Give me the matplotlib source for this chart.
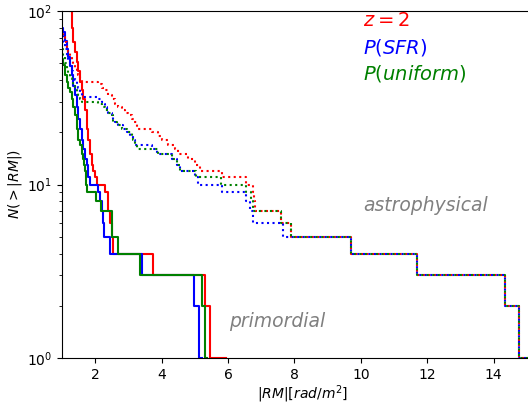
import matplotlib
matplotlib.use("Agg")
import matplotlib.pyplot as plt

# ---- primordial (solid) : step positions |RM| and N(>|RM|) levels ----
prim_z2_rm = [1.18, 1.22, 1.29, 1.34, 1.39, 1.44, 1.49, 1.54, 1.59, 1.64, 1.69, 1.74, 1.79,
              1.84, 1.89, 1.94, 1.99, 2.04, 2.30, 2.39, 2.45, 2.50, 2.55, 3.73, 5.30, 5.45, 5.95]
prim_z2_n = [110, 100, 80, 66, 58, 51, 45, 39, 35, 31, 27, 21, 18,
             15, 13, 12, 11, 10, 9, 7, 6, 5, 4, 3, 2, 1, 1]

prim_sfr_rm = [1.00, 1.04, 1.09, 1.14, 1.19, 1.24, 1.29, 1.34, 1.39, 1.44, 1.49, 1.54, 1.59, 1.64,
               1.69, 1.74, 1.79, 1.84, 2.09, 2.14, 2.19, 2.24, 2.27, 2.45, 3.40, 4.98, 5.13, 5.21]
prim_sfr_n = [80, 76, 67, 60, 54, 48, 43, 37, 33, 28, 24, 21, 18, 16,
              14, 13, 11, 10, 9, 8, 7, 6, 5, 4, 3, 2, 1, 1]

prim_uni_rm = [1.00, 1.04, 1.09, 1.14, 1.19, 1.24, 1.29, 1.34, 1.39, 1.44, 1.49, 1.54, 1.59, 1.64,
               1.66, 1.69, 1.71, 1.73, 1.75, 2.01, 2.17, 2.52, 2.69, 3.35, 5.22, 5.30, 5.36]
prim_uni_n = [53, 49, 43, 39, 36, 34, 31, 28, 25, 21, 18, 17, 15, 14,
              13, 12, 11, 10, 9, 8, 7, 5, 4, 3, 2, 1, 1]

# ---- astrophysical (dotted) ----
astro_z2_rm = [1.00, 1.04, 1.09, 1.14, 1.19, 1.24, 1.29, 1.34, 1.39, 1.44, 1.49, 1.54, 1.60,
               2.09, 2.20, 2.30, 2.40, 2.50, 2.60, 2.70, 2.80, 2.90, 3.00, 3.10, 3.18, 3.25,
               3.70, 3.90, 4.00, 4.20, 4.40, 4.50, 4.80, 5.00, 5.15, 5.81, 6.53, 6.74, 6.78,
               6.81, 7.60, 7.90, 9.70, 11.70, 14.35, 14.75, 15.5]
astro_z2_n = [74, 71, 66, 62, 58, 55, 52, 49, 47, 45, 43, 41, 39,
              38, 36, 35, 33, 31, 29, 28, 27, 26, 25, 24, 23, 21,
              20, 19, 18, 17, 16, 15, 14, 13, 12, 11, 10, 9, 8,
              7, 6, 5, 4, 3, 2, 1, 1]

astro_sfr_rm = [1.00, 1.04, 1.09, 1.14, 1.19, 1.24, 1.29, 1.34, 1.39, 1.44, 1.49, 1.54, 1.60,
                2.09, 2.19, 2.25, 2.30, 2.35, 2.40, 2.50, 2.55, 2.60, 2.70, 2.85, 2.95, 3.05,
                3.13, 3.20, 3.70, 3.85, 3.95, 4.30, 4.45, 4.55, 5.00, 5.10, 5.83, 6.55, 6.65,
                6.75, 6.81, 7.66, 9.70, 11.70, 14.35, 14.75, 15.5]
astro_sfr_n = [72, 66, 60, 55, 51, 48, 45, 42, 40, 38, 36, 34, 32,
               31, 30, 29, 28, 27, 26, 25, 24, 23, 22, 21, 20, 19,
               18, 17, 16, 15, 15, 14, 13, 12, 11, 10, 9, 8, 7,
               6, 6, 5, 4, 3, 2, 1, 1]

astro_uni_rm = [1.00, 1.04, 1.09, 1.14, 1.19, 1.24, 1.29, 1.34, 1.39, 1.44, 1.49, 1.54, 1.60,
                2.09, 2.20, 2.30, 2.40, 2.50, 2.55, 2.65, 2.80, 2.95, 3.10, 3.15, 3.20, 3.25,
                3.70, 3.88, 4.30, 4.45, 4.55, 5.05, 5.78, 6.55, 6.70, 6.76, 6.81, 7.60, 7.90,
                9.70, 11.70, 14.35, 14.75, 15.5]
astro_uni_n = [60, 55, 50, 46, 43, 41, 39, 37, 35, 34, 33, 31, 30,
               29, 28, 27, 26, 25, 23, 22, 21, 20, 19, 18, 17, 16,
               16, 15, 14, 13, 12, 11, 10, 9, 8, 7, 7, 6, 5,
               4, 3, 2, 1, 1]

labels = ["$z=2$", "$P(SFR)$", "$P(uniform)$"]
colors = ["red", "blue", "green"]
xticks = [2, 4, 6, 8, 10, 12, 14]

fig = plt.figure(figsize=(5.28, 4.07), dpi=100)
ax = fig.add_axes([62 / 528, 49 / 407, 481.4 / 528, 347 / 407])

prim = [(prim_z2_rm, prim_z2_n), (prim_sfr_rm, prim_sfr_n), (prim_uni_rm, prim_uni_n)]
astro = [(astro_z2_rm, astro_z2_n), (astro_sfr_rm, astro_sfr_n), (astro_uni_rm, astro_uni_n)]

for (x, n), c in zip(prim, colors):
    ax.step(x, n, where="post", color=c, lw=1.5)
for (x, n), c in zip(astro, colors):
    ax.step(x, n, where="post", color=c, lw=1.5, ls=":")

ax.set_yscale("log")
ax.set_xlim(1, 15.5)
ax.set_ylim(1, 100)
ax.set_xticks(xticks)
ax.spines["right"].set_visible(False)

for i, (lab, c) in enumerate(zip(labels, colors)):
    ax.text(0.625, 0.972 - i * 0.076, lab, color=c, fontsize=14,
            transform=ax.transAxes, va="center", ha="left")

ax.text(0.625, 0.439, "astrophysical", color="gray", fontsize=13.5, style="italic",
        transform=ax.transAxes, va="center", ha="left")
ax.text(0.348, 0.104, "primordial", color="gray", fontsize=13.5, style="italic",
        transform=ax.transAxes, va="center", ha="left")

ax.set_xlabel("$|RM|[rad/m^2]$", labelpad=1)
ax.set_ylabel("$N(>|RM|)$", labelpad=2)

fig.savefig("out.png", dpi=100)
